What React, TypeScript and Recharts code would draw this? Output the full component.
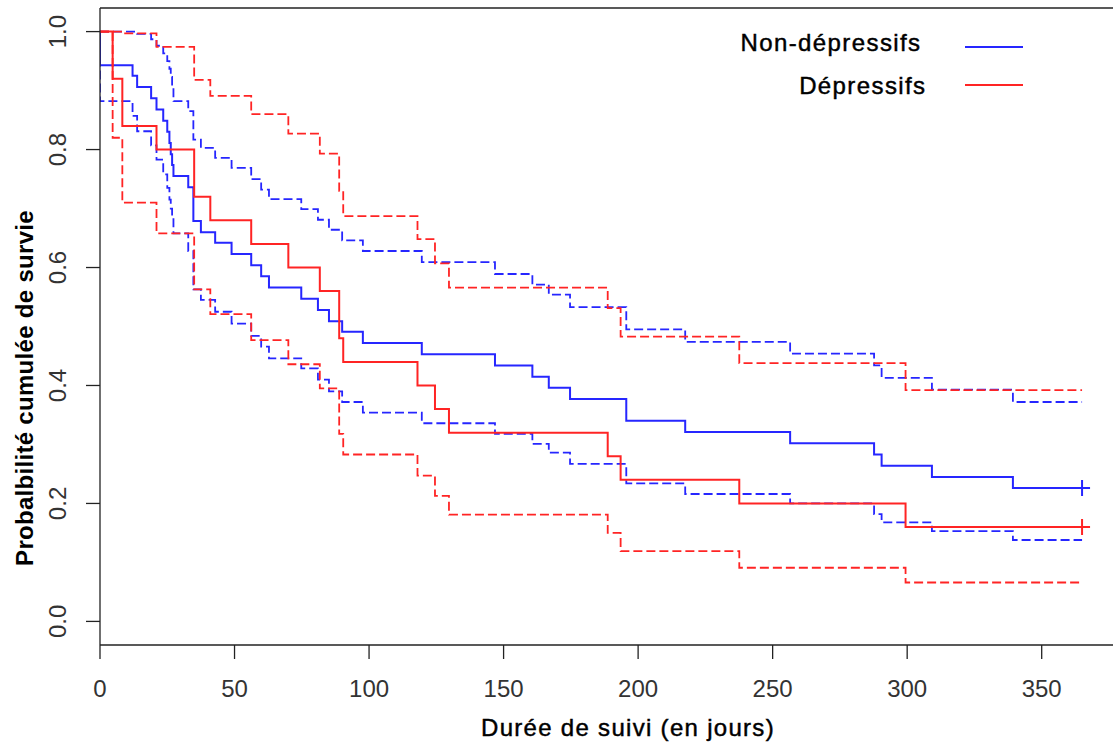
import { LineChart, Line, XAxis, YAxis, ReferenceLine } from 'recharts'

// Non-dépressifs: Kaplan-Meier estimate with its confidence limits
const nonDepTimes = [
  0, 0, 12.1, 13.8, 19, 21, 23.5, 25, 25.8, 26.3, 26.8, 27.3, 32.8, 34.7, 37.5, 42.8, 48.9,
  56.2, 59.9, 62.8, 74.8, 81, 85.1, 90, 97.7, 119.6, 146.8, 160.7, 166.8, 174.7, 195.6,
  217.5, 256.5, 287.7, 290.5, 309.2, 339.3, 365,
]
const nonDepSurv = [
  1.0, 0.943, 0.925, 0.906, 0.887, 0.868, 0.849, 0.83, 0.811, 0.792, 0.774, 0.755, 0.736,
  0.679, 0.66, 0.642, 0.623, 0.604, 0.585, 0.566, 0.547, 0.528, 0.509, 0.491, 0.472, 0.453,
  0.434, 0.415, 0.396, 0.377, 0.34, 0.321, 0.302, 0.283, 0.264, 0.245, 0.226, 0.226,
]
const nonDepLower = [
  1.0, 0.882, 0.857, 0.831, 0.807, 0.783, 0.758, 0.735, 0.715, 0.7, 0.685, 0.658, 0.628,
  0.563, 0.545, 0.525, 0.505, 0.484, 0.466, 0.446, 0.429, 0.41, 0.39, 0.372, 0.354, 0.336,
  0.318, 0.301, 0.286, 0.267, 0.234, 0.216, 0.2, 0.182, 0.168, 0.153, 0.138, 0.138,
]
const nonDepUpper = [
  1.0, 1.0, 1.0, 0.996, 0.987, 0.976, 0.963, 0.95, 0.937, 0.923, 0.908, 0.882, 0.865,
  0.817, 0.803, 0.786, 0.769, 0.75, 0.732, 0.716, 0.699, 0.681, 0.664, 0.646, 0.628, 0.609,
  0.589, 0.571, 0.554, 0.533, 0.495, 0.474, 0.454, 0.434, 0.413, 0.393, 0.372, 0.372,
]

// Dépressifs
const depTimes = [
  0, 4.7, 8.3, 21, 35, 41, 56.2, 70, 81.7, 88.9, 90.4, 118, 124.5, 129.7, 188.7, 193.5,
  237.6, 299.4, 365,
]
const depSurv = [
  1.0, 0.92, 0.84, 0.8, 0.72, 0.68, 0.64, 0.6, 0.56, 0.48, 0.44, 0.4, 0.36, 0.32, 0.28,
  0.24, 0.2, 0.16, 0.16,
]
const depLower = [
  1.0, 0.82, 0.71, 0.658, 0.563, 0.521, 0.477, 0.436, 0.395, 0.318, 0.283, 0.247, 0.213,
  0.181, 0.15, 0.119, 0.091, 0.066, 0.066,
]
const depUpper = [
  1.0, 1.0, 0.997, 0.974, 0.918, 0.891, 0.86, 0.827, 0.793, 0.73, 0.687, 0.648, 0.607,
  0.566, 0.531, 0.483, 0.438, 0.392, 0.392,
]

const xTicks = [0, 50, 100, 150, 200, 250, 300, 350]
const yTicks = [0, 0.2, 0.4, 0.6, 0.8, 1.0]

const BLUE = '#2626ff'
const RED = '#ff2424'
const font = '"Liberation Sans", Arial, Helvetica, sans-serif'

const toRows = (t: number[], s: number[], lo: number[], hi: number[]) =>
  t.map((time, i) => ({ t: time, s: s[i], lo: lo[i], hi: hi[i] }))

const nonDepRows = toRows(nonDepTimes, nonDepSurv, nonDepLower, nonDepUpper)
const depRows = toRows(depTimes, depSurv, depLower, depUpper)

function XTick({ x, payload }: any) {
  return (
    <text x={x} y={697} textAnchor="middle" fontSize={24} fill="#333" fontFamily={font}>
      {payload.value}
    </text>
  )
}

function YTick({ y, payload }: any) {
  return (
    <text
      transform={`translate(66, ${y}) rotate(-90)`}
      textAnchor="middle"
      fontSize={24}
      fill="#333"
      fontFamily={font}
    >
      {Number(payload.value).toFixed(1)}
    </text>
  )
}

// "+" censoring mark on the last point only
const censor = (color: string, last: number) => (p: any) => {
  if (p.index !== last) return <g key={`d-${p.index}`} />
  return (
    <path
      key={`d-${p.index}`}
      d={`M${p.cx - 8},${p.cy}H${p.cx + 8}M${p.cx},${p.cy - 8}V${p.cy + 8}`}
      stroke={color}
      strokeWidth={2}
      fill="none"
    />
  )
}

export default function App() {
  return (
    <div style={{ position: 'absolute', left: 0, top: 0, width: 1113, height: 744, background: '#fff' }}>
      <LineChart width={1113} height={744} margin={{ top: 8, right: 0, bottom: 0, left: 0 }}>
        <XAxis
          type="number"
          dataKey="t"
          domain={[0, 376.5]}
          ticks={xTicks}
          interval={0}
          allowDataOverflow
          height={99}
          tickSize={14}
          stroke="#222"
          strokeWidth={1.3}
          tick={<XTick />}
        />
        <YAxis
          type="number"
          domain={[-0.04, 1.04]}
          ticks={yTicks}
          interval={0}
          allowDataOverflow
          width={100}
          tickSize={14}
          stroke="#222"
          strokeWidth={1.3}
          tick={<YTick />}
        />
        <ReferenceLine y={1.04} stroke="#222" strokeWidth={1.3} />

        <Line data={nonDepRows} dataKey="lo" type="stepAfter" stroke={BLUE} strokeWidth={1.8} strokeDasharray="9 4" dot={false} isAnimationActive={false} />
        <Line data={nonDepRows} dataKey="hi" type="stepAfter" stroke={BLUE} strokeWidth={1.8} strokeDasharray="9 4" dot={false} isAnimationActive={false} />
        <Line data={nonDepRows} dataKey="s" type="stepAfter" stroke={BLUE} strokeWidth={2} dot={censor(BLUE, nonDepRows.length - 1)} isAnimationActive={false} />

        <Line data={depRows} dataKey="lo" type="stepAfter" stroke={RED} strokeWidth={1.8} strokeDasharray="9 4" dot={false} isAnimationActive={false} />
        <Line data={depRows} dataKey="hi" type="stepAfter" stroke={RED} strokeWidth={1.8} strokeDasharray="9 4" dot={false} isAnimationActive={false} />
        <Line data={depRows} dataKey="s" type="stepAfter" stroke={RED} strokeWidth={2} dot={censor(RED, depRows.length - 1)} isAnimationActive={false} />
      </LineChart>

      <svg
        width={1113}
        height={744}
        style={{ position: 'absolute', left: 0, top: 0, pointerEvents: 'none' }}
        fontFamily={font}
      >
        <g fill="#000" stroke="#000" strokeWidth={0.45}>
          <text x={921.5} y={51} textAnchor="end" fontSize={24} letterSpacing={1.4}>
            Non-dépressifs
          </text>
          <text x={926.5} y={94} textAnchor="end" fontSize={24} letterSpacing={1.4}>
            Dépressifs
          </text>
          <text x={628} y={736} textAnchor="middle" fontSize={24} letterSpacing={1.3}>
            Durée de suivi (en jours)
          </text>
        </g>
        <line x1={965} x2={1023} y1={47} y2={47} stroke={BLUE} strokeWidth={2} />
        <line x1={965} x2={1023} y1={85} y2={85} stroke={RED} strokeWidth={2} />
        <text
          transform="translate(33, 388) rotate(-90)"
          textAnchor="middle"
          fontSize={24}
          fontWeight="bold"
          letterSpacing={0.3}
          fill="#000"
        >
          Probalbilité cumulée de survie
        </text>
      </svg>
    </div>
  )
}
